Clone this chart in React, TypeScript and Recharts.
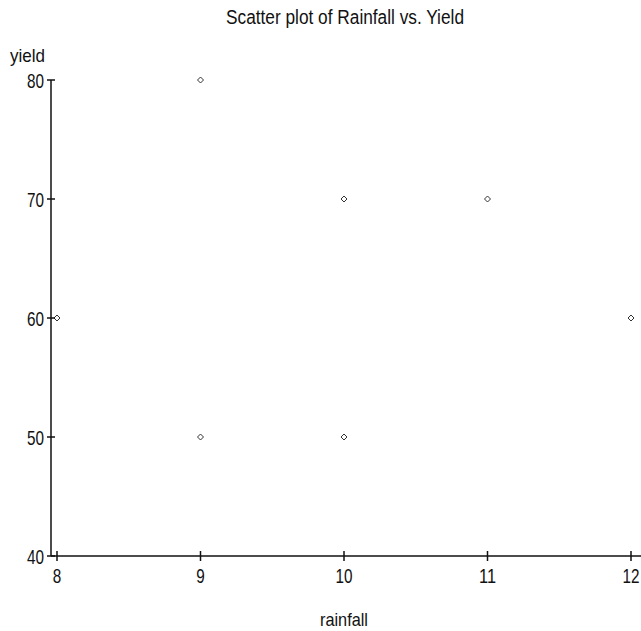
import { ScatterChart, Scatter, XAxis, YAxis } from "recharts"

const rainfall = [8, 9, 9, 10, 10, 11, 12]
const yieldValues = [60, 80, 50, 70, 50, 70, 60]
const xTicks = [8, 9, 10, 11, 12]
const yTicks = [40, 50, 60, 70, 80]

const data = rainfall.map((r, i) => ({ rainfall: r, yield: yieldValues[i] }))

const FONT = '"Liberation Sans", Arial, sans-serif'
const DIGIT_W = 8.5 // the original font is a tall, narrow one

// tick marks cross the axis line on both sides
const XTick = (props: any) => {
  const { x, y, payload } = props
  const label = String(payload.value)
  return (
    <g>
      <line x1={x} x2={x} y1={y - 5} y2={y + 5} stroke="#111" strokeWidth={1.5} />
      <text
        x={x}
        y={y + 27}
        textAnchor="middle"
        fontFamily={FONT}
        fontSize={20}
        fill="#111"
        textLength={label.length * DIGIT_W}
        lengthAdjust="spacingAndGlyphs"
      >
        {label}
      </text>
    </g>
  )
}

const YTick = (props: any) => {
  const { x, y, payload } = props
  const label = String(payload.value)
  return (
    <g>
      <line x1={x - 4} x2={x + 4} y1={y} y2={y} stroke="#111" strokeWidth={1.5} />
      <text
        x={x - 7}
        y={y + 8}
        textAnchor="end"
        fontFamily={FONT}
        fontSize={21}
        fill="#111"
        textLength={label.length * DIGIT_W}
        lengthAdjust="spacingAndGlyphs"
      >
        {label}
      </text>
    </g>
  )
}

const Diamond = (props: any) => {
  const { cx, cy } = props
  const r = 3
  return (
    <polygon
      points={`${cx},${cy - r} ${cx + r},${cy} ${cx},${cy + r} ${cx - r},${cy}`}
      fill="#fff"
      stroke="#333"
      strokeWidth={1}
    />
  )
}

export default function App() {
  return (
    <div style={{ position: "absolute", left: 0, top: 0, width: 641, height: 631, background: "#fff" }}>
      <ScatterChart width={641} height={631} margin={{ top: 80, right: 0, bottom: 0, left: 0 }}>
        <XAxis
          type="number"
          dataKey="rainfall"
          domain={[8, 12]}
          ticks={xTicks}
          padding={{ left: 6, right: 10 }}
          height={75}
          tickSize={0}
          tickMargin={0}
          tickLine={false}
          tick={<XTick />}
          axisLine={{ stroke: "#111", strokeWidth: 1.5 }}
          label={() => (
            <text
              x={320}
              y={626}
              fontFamily={FONT}
              fontSize={19}
              fill="#111"
              textLength={48}
              lengthAdjust="spacingAndGlyphs"
            >
              rainfall
            </text>
          )}
        />
        <YAxis
          type="number"
          dataKey="yield"
          domain={[40, 80]}
          ticks={yTicks}
          width={51}
          tickSize={0}
          tickMargin={0}
          tickLine={false}
          tick={<YTick />}
          axisLine={{ stroke: "#111", strokeWidth: 1.5 }}
          label={() => (
            <g>
              <text
                x={226}
                y={24}
                fontFamily={FONT}
                fontSize={20}
                fill="#111"
                textLength={238}
                lengthAdjust="spacingAndGlyphs"
              >
                Scatter plot of Rainfall vs. Yield
              </text>
              <text
                x={10}
                y={62}
                fontFamily={FONT}
                fontSize={19}
                fill="#111"
                textLength={35}
                lengthAdjust="spacingAndGlyphs"
              >
                yield
              </text>
            </g>
          )}
        />
        <Scatter data={data} shape={<Diamond />} isAnimationActive={false} />
      </ScatterChart>
    </div>
  )
}
